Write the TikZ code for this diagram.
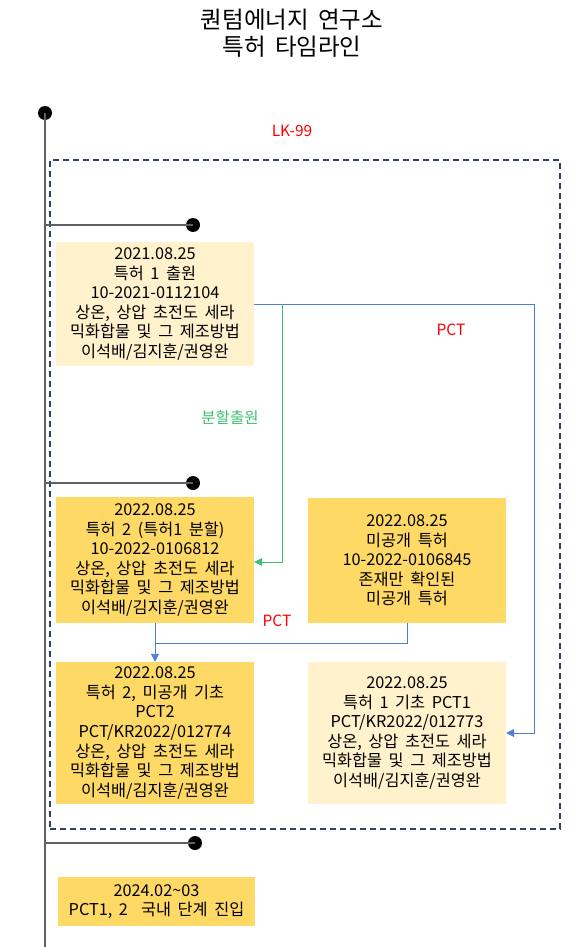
\documentclass[tikz,border=0pt]{standalone}
\usepackage{fontspec}
\setmainfont{Noto Sans CJK KR}[WordSpace=1.8]
\usetikzlibrary{arrows.meta}
\definecolor{lightbox}{HTML}{FFF2CC}
\definecolor{goldbox}{HTML}{FFD966}
\definecolor{pctblue}{HTML}{4E7FD6}
\definecolor{splitgreen}{HTML}{3CBF72}
\definecolor{navy}{HTML}{2F4266}
\definecolor{tline}{HTML}{606060}
\begin{document}
\begin{tikzpicture}[x=1pt,y=-1pt,
  boxtext/.style={align=center, inner sep=0pt, minimum width=198pt, text=black,
    font=\fontsize{16.3}{19.6}\selectfont},
  lightb/.style={boxtext, fill=lightbox},
  goldb/.style={boxtext, fill=goldbox},
  dotnode/.style={circle, fill=black, inner sep=0pt, minimum size=14pt},
  tl/.style={draw=tline, line width=1.2pt},
  frame/.style={draw=navy, line width=1.6pt, dash pattern=on 6pt off 4pt, inner sep=0pt},
  redlbl/.style={text=red, font=\fontsize{15.5}{18}\selectfont, inner sep=0pt},
  bluearrow/.style={draw=pctblue, line width=0.9pt, -{Triangle[length=8pt,width=8pt]}},
  blueline/.style={draw=pctblue, line width=0.9pt},
  greenarrow/.style={draw=splitgreen, line width=0.9pt, -{Triangle[length=8pt,width=8pt]}}
]
\fill[white] (0,0) rectangle (584,947);
\useasboundingbox (0,0) rectangle (584,947);

% title
\node[align=center, inner sep=0pt, font=\fontsize{23.5}{26.5}\selectfont] (title) at (292,33)
  {퀀텀에너지 연구소\\특허 타임라인};

% dashed LK-99 frame
\node[frame, minimum width=510pt, minimum height=669pt] (lk) at (305,494.5) {};
\node[redlbl] (lklbl) at (292,131) {LK-99};

% timeline
\node[dotnode] (d0) at (45,113) {};
\coordinate (tend) at (45,947);
\draw[tl] (d0.center) -- (tend);
\coordinate (b1) at (44,225);
\node[dotnode] (d1) at (193,225) {};
\draw[tl] (b1) -- (d1.center);
\coordinate (b2) at (44,483);
\node[dotnode] (d2) at (193,483) {};
\draw[tl] (b2) -- (d2.center);
\coordinate (b3) at (44,843);
\node[dotnode] (d3) at (195,843) {};
\draw[tl] (b3) -- (d3.center);

% boxes
\node[lightb, minimum height=124pt] (p1) at (155,304)
  {2021.08.25\\특허 1 출원\\10-2021-0112104\\상온, 상압 초전도 세라\\믹화합물 및 그 제조방법\\이석배/김지훈/권영완};
\node[goldb, minimum height=126pt] (p2) at (155,560)
  {2022.08.25\\특허 2 (특허1 분할)\\10-2022-0106812\\상온, 상압 초전도 세라\\믹화합물 및 그 제조방법\\이석배/김지훈/권영완};
\node[goldb, minimum height=125pt] (p3) at (407,560.5)
  {2022.08.25\\미공개 특허\\10-2022-0106845\\존재만 확인된\\미공개 특허};
\node[goldb, minimum height=142pt] (pct2) at (155,733)
  {2022.08.25\\특허 2, 미공개 기초\\PCT2\\PCT/KR2022/012774\\상온, 상압 초전도 세라\\믹화합물 및 그 제조방법\\이석배/김지훈/권영완};
\node[lightb, minimum height=142pt] (pct1) at (407,733)
  {2022.08.25\\특허 1 기초 PCT1\\PCT/KR2022/012773\\상온, 상압 초전도 세라\\믹화합물 및 그 제조방법\\이석배/김지훈/권영완};
\node[goldb, minimum width=197pt, minimum height=49pt] (nat) at (156.5,901.5)
  {2024.02\textasciitilde03\\PCT1, 2 \ 국내 단계 진입};

% connectors
\coordinate (j1) at (282,304);
\coordinate (c1) at (534,304);
\coordinate (c2) at (534,733);
\draw[bluearrow] (p1.east |- j1) -- (c1) -- (c2) -- (pct1.east |- c2);
\coordinate (g1) at (282,562);
\draw[greenarrow] (j1) -- (g1) -- (p2.east |- g1);
\node[text=splitgreen, font=\fontsize{15.5}{18}\selectfont, inner sep=0pt] (splitlbl) at (230,418) {분할출원};
\node[redlbl] (pcttop) at (451,330) {PCT};

\coordinate (m1) at (407,643);
\coordinate (m2) at (155,643);
\draw[blueline] (p3.south) -- (m1) -- (m2);
\draw[bluearrow] (p2.south) -- (pct2.north);
\node[redlbl] (pctmid) at (277,621) {PCT};
\end{tikzpicture}
\end{document}
